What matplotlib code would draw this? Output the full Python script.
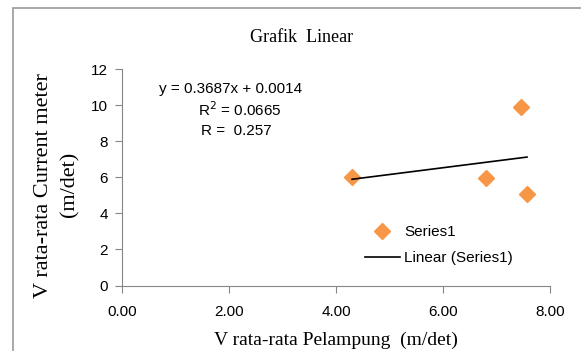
import matplotlib.pyplot as plt
import numpy as np
from matplotlib.patches import Rectangle

# data
v_pelampung = [4.30, 6.81, 7.45, 7.57]
v_current = [6.00, 5.95, 9.92, 5.08]
x_ticks = [0, 2, 4, 6, 8]
y_ticks = [0, 2, 4, 6, 8, 10, 12]
eq_lines = ["y = 0.3687x + 0.0014", "R$^2$ = 0.0665", "R =  0.257"]

serif = ['Liberation Serif', 'DejaVu Serif']
sans = ['Liberation Sans', 'DejaVu Sans']
grey = '#868686'

fig = plt.figure(figsize=(5.81, 3.51), dpi=100)
ax = fig.add_axes([122 / 581, 1 - 285.5 / 351, 428 / 581, 216.2 / 351])

ax.plot(v_pelampung, v_current, linestyle='none', marker='D', markersize=8,
        color='#F79646', label='Series1')

# linear trendline from the points
k, b = np.polyfit(v_pelampung, v_current, 1)
xs = np.array([min(v_pelampung), max(v_pelampung)])
ax.plot(xs, k * xs + b, color='black', linewidth=1.2, label='Linear (Series1)')

ax.set_xlim(0, 8)
ax.set_ylim(0, 12)
ax.set_xticks(x_ticks)
ax.set_xticklabels(["%.2f" % t for t in x_ticks])
ax.set_yticks(y_ticks)
for s in ['top', 'right']:
    ax.spines[s].set_visible(False)
for s in ['left', 'bottom']:
    ax.spines[s].set_color(grey)
ax.tick_params(direction='out', length=5, color=grey, labelsize=11, pad=5)
for lab in ax.get_xticklabels() + ax.get_yticklabels():
    lab.set_family(sans)
ax.tick_params(axis='x', pad=9)

leg = ax.legend(loc='lower right', bbox_to_anchor=(0.946, 0.03), frameon=False,
                prop={'family': sans, 'size': 11}, handlelength=2.3,
                handletextpad=0.3, labelspacing=0.8)

# equation text (figure pixel positions)
for txt, px, py in zip(eq_lines, [231, 240, 236], [89, 110, 131]):
    fig.text(px / 581, 1 - py / 351, txt, ha='center', va='center',
             family=sans, size=11)

fig.text(302 / 581, 1 - 38 / 351, "Grafik  Linear", ha='center', va='center',
         family=serif, size=13)
fig.text(336 / 581, 1 - 340 / 351, "V rata-rata Pelampung  (m/det)", ha='center',
         va='center', family=serif, size=14)
fig.text(44 / 581, 1 - 186 / 351, "V rata-rata Current meter", ha='center',
         va='center', rotation=90, family=serif, size=16)
fig.text(70 / 581, 1 - 184 / 351, "(m/det)", ha='center', va='center',
         rotation=90, family=serif, size=16)

# chart border
fig.patches.append(Rectangle((13 / 581, -0.2), 1.2, 1.2 - 8 / 351, transform=fig.transFigure,
                             fill=False, edgecolor='#9a9a9a', linewidth=1.2))

fig.savefig('out.png', dpi=100)
